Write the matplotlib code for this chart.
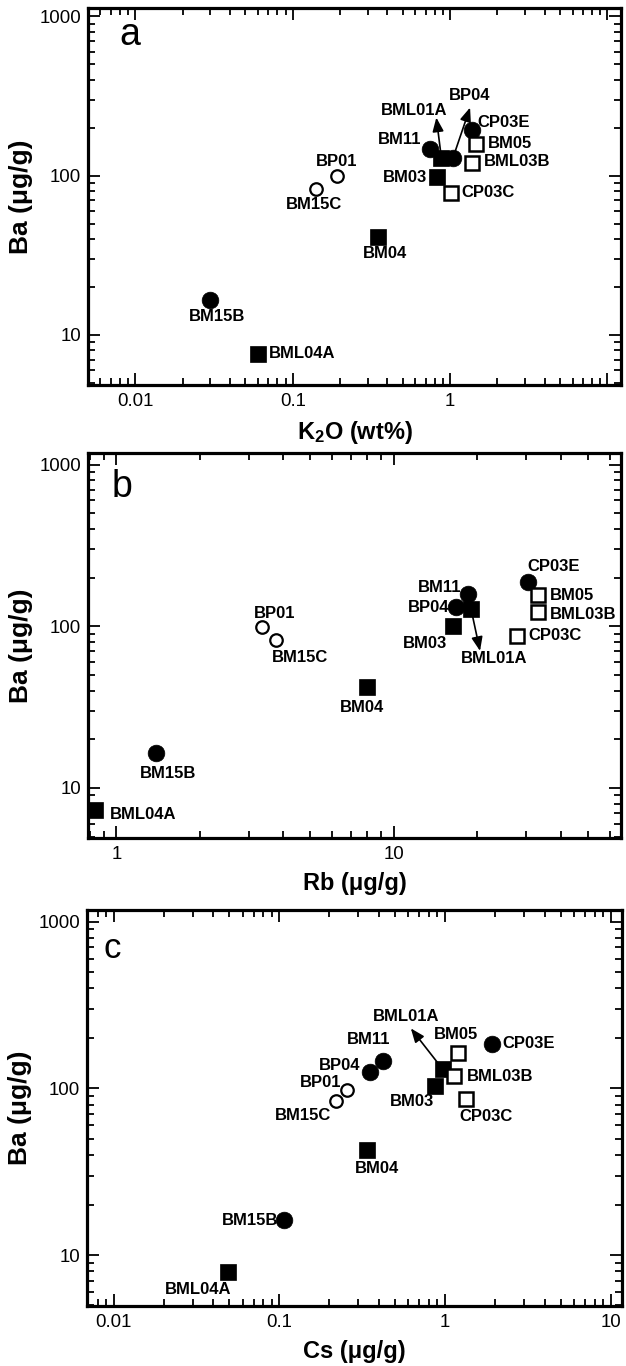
import matplotlib
matplotlib.use('Agg')
import matplotlib.pyplot as plt
from matplotlib.ticker import FixedLocator, FixedFormatter, LogLocator, NullFormatter

plt.rcParams['font.family'] = ['Liberation Sans', 'DejaVu Sans']
plt.rcParams['mathtext.fontset'] = 'custom'
plt.rcParams['mathtext.rm'] = 'Liberation Sans:bold'
plt.rcParams['mathtext.default'] = 'rm'

# ---------------- data ----------------
samples = ['BM15B', 'BML04A', 'BM15C', 'BP01', 'BM04', 'BM11', 'BM03',
           'BML01A', 'BP04', 'CP03E', 'BM05', 'BML03B', 'CP03C']
kinds = ['filled_circle', 'filled_square', 'open_circle', 'open_circle',
         'filled_square', 'filled_circle', 'filled_square', 'filled_square',
         'filled_circle', 'filled_circle', 'open_square', 'open_square',
         'open_square']

k2o = [0.030, 0.0605, 0.14, 0.191, 0.35, 0.743, 0.82, 0.88, 1.045, 1.37, 1.47, 1.37, 1.02]
ba_a = [16.6, 7.6, 83, 99, 41.5, 147, 98, 130, 130, 195, 158, 121, 78]

rb = [1.39, 0.84, 3.76, 3.35, 8.0, 18.6, 16.3, 19.0, 16.8, 30.5, 33, 33, 27.8]
ba_b = [16.4, 7.35, 82.8, 98.6, 42, 159, 101, 128, 132, 188, 157, 123, 86.7]

cs = [0.107, 0.049, 0.219, 0.256, 0.338, 0.421, 0.865, 0.97, 0.351, 1.93, 1.19, 1.14, 1.34]
ba_c = [16.2, 7.87, 84.3, 97.7, 42.6, 146, 103, 130, 126, 184.6, 162, 118.5, 85.9]

x_tick_vals = {'a': [0.01, 0.1, 1, 10], 'b': [1, 10], 'c': [0.01, 0.1, 1, 10]}
x_tick_labels = {'a': ['0.01', '0.1', '1', ''], 'b': ['1', '10'],
                 'c': ['0.01', '0.1', '1', '10']}
y_tick_vals = [10, 100, 1000]
y_tick_labels = ['10', '100', '1000']

# ---------------- layout / style ----------------
marker_style = {
    'filled_circle': dict(marker='o', ms=12, mfc='black', mec='black', mew=0.5),
    'open_circle': dict(marker='o', ms=9, mfc='white', mec='black', mew=1.6),
    'filled_square': dict(marker='s', ms=12, mfc='black', mec='black', mew=0.5),
    'open_square': dict(marker='s', ms=10.5, mfc='white', mec='black', mew=1.8),
}

# label offsets in pixels (dx, dy up, ha); arrows: head offset
label_layout = {
    'a': {
        'BM15B': (7, -17, 'center'), 'BML04A': (11, 0, 'left'),
        'BM15C': (-2, -16, 'center'), 'BP01': (0, 15, 'center'),
        'BM04': (7, -17, 'center'), 'BM11': (-8, 10, 'right'),
        'BM03': (-9, 0, 'right'), 'BML01A': (-27, 47, 'center'),
        'BP04': (17, 62, 'center'), 'CP03E': (6, 7, 'left'),
        'BM05': (11, 1, 'left'), 'BML03B': (12, 1, 'left'),
        'CP03C': (10, 0, 'left'),
    },
    'b': {
        'BML04A': (14, -5, 'left'), 'BM15B': (12, -20, 'center'),
        'BP01': (13, 14, 'center'), 'BM15C': (24, -18, 'center'),
        'BM04': (-5, -20, 'center'), 'BM11': (-7, 6, 'right'),
        'BP04': (-7, -1, 'right'), 'BM03': (-28, -18, 'center'),
        'BML01A': (23, -50, 'center'), 'CP03E': (26, 15, 'center'),
        'BM05': (12, -1, 'left'), 'BML03B': (12, -3, 'left'),
        'CP03C': (12, 1, 'left'),
    },
    'c': {
        'BML04A': (-30, -17, 'center'), 'BM15B': (-6, 0, 'right'),
        'BM15C': (-5, -15, 'right'), 'BP01': (-6, 8, 'right'),
        'BP04': (-9, 6, 'right'), 'BM11': (-14, 21, 'center'),
        'BM04': (10, -18, 'center'), 'BM03': (-23, -15, 'center'),
        'BML01A': (-37, 53, 'center'), 'BM05': (-2, 19, 'center'),
        'BML03B': (12, 0, 'left'), 'CP03C': (20, -17, 'center'),
        'CP03E': (10, 0, 'left'),
    },
}
arrow_layout = {
    'a': {'BML01A': (-5, 40), 'BP04': (17, 50)},
    'b': {'BML01A': (9, -42)},
    'c': {'BML01A': (-32, 41)},
}

W, H = 626, 1366
panels = [
    dict(key='a', x=k2o, y=ba_a, xlim=(0.005, 12.2), ylim=(4.85, 1130),
         box=(88, 8, 621, 385), xlabel=r'K$_{2}$O (wt%)', letter='a',
         letter_pos=(0.058, 0.902), letter_size=27),
    dict(key='b', x=rb, y=ba_b, xlim=(0.79, 66), ylim=(4.9, 1180),
         box=(88, 453, 621, 838), xlabel='Rb (\u03bcg/g)', letter='b',
         letter_pos=(0.044, 0.887), letter_size=27),
    dict(key='c', x=cs, y=ba_c, xlim=(0.0069, 11.7), ylim=(4.95, 1175),
         box=(87, 910, 622, 1306), xlabel='Cs (\u03bcg/g)', letter='c',
         letter_pos=(0.031, 0.878), letter_size=25),
]

fig = plt.figure(figsize=(W / 100, H / 100), dpi=100)

for p in panels:
    l, t, r, b = p['box']
    ax = fig.add_axes([l / W, 1 - b / H, (r - l) / W, (b - t) / H])
    ax.set_xscale('log')
    ax.set_yscale('log')
    ax.set_xlim(*p['xlim'])
    ax.set_ylim(*p['ylim'])

    for s, k, xv, yv in zip(samples, kinds, p['x'], p['y']):
        ax.plot([xv], [yv], linestyle='none', zorder=3, **marker_style[k])

    key = p['key']
    for s, xv, yv in zip(samples, p['x'], p['y']):
        dx, dy, ha = label_layout[key][s]
        ax.annotate(s, xy=(xv, yv), xytext=(dx, dy), textcoords='offset pixels',
                    ha=ha, va='center', fontsize=12, fontweight='bold', zorder=4)
    for s, (hx, hy) in arrow_layout[key].items():
        i = samples.index(s)
        ax.annotate('', xy=(p['x'][i], p['y'][i]), xytext=(hx, hy),
                    textcoords='offset pixels',
                    arrowprops=dict(arrowstyle='<|-,head_length=0.7,head_width=0.28',
                                    color='black', lw=1.2, shrinkA=0, shrinkB=0,
                                    mutation_scale=12),
                    zorder=2)

    ax.xaxis.set_major_locator(FixedLocator(x_tick_vals[key]))
    ax.xaxis.set_major_formatter(FixedFormatter(x_tick_labels[key]))
    ax.yaxis.set_major_locator(FixedLocator(y_tick_vals))
    ax.yaxis.set_major_formatter(FixedFormatter(y_tick_labels))
    ax.xaxis.set_minor_locator(LogLocator(base=10, subs=range(2, 10), numticks=20))
    ax.yaxis.set_minor_locator(LogLocator(base=10, subs=range(2, 10), numticks=20))
    ax.xaxis.set_minor_formatter(NullFormatter())
    ax.yaxis.set_minor_formatter(NullFormatter())

    ax.tick_params(which='both', direction='in', top=True, right=True,
                   labelsize=13.4, width=1.3, color='black')
    ax.tick_params(which='major', length=8.5)
    ax.tick_params(which='minor', length=5)
    ax.tick_params(axis='x', which='major', pad=6)
    ax.tick_params(axis='y', which='major', pad=5)
    for sp in ax.spines.values():
        sp.set_linewidth(2.3)

    ax.set_xlabel(p['xlabel'], fontsize=17, fontweight='bold', labelpad=6)
    ax.set_ylabel('Ba (\u03bcg/g)', fontsize=19, fontweight='bold')
    ax.yaxis.set_label_coords(-0.103, 0.5)
    ax.text(p['letter_pos'][0], p['letter_pos'][1], p['letter'],
            transform=ax.transAxes, fontsize=p['letter_size'], ha='left',
            va='baseline')

fig.savefig('out.png', dpi=100)
